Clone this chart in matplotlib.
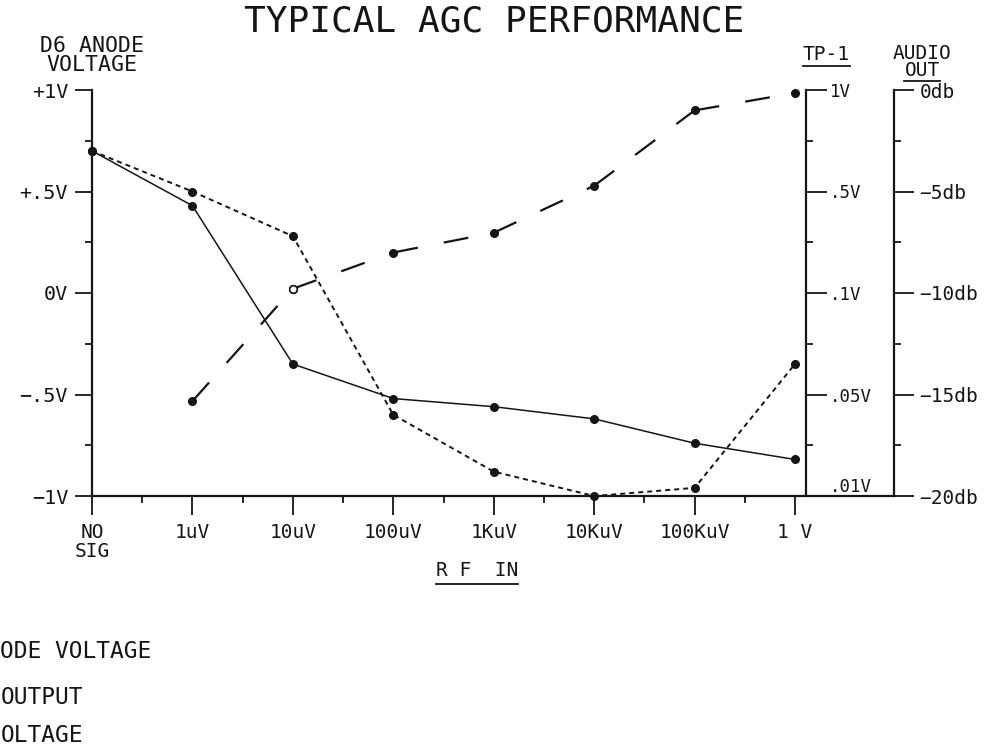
import numpy as np
import matplotlib
matplotlib.use("Agg")
import matplotlib.pyplot as plt
from matplotlib.lines import Line2D
from matplotlib.ticker import NullFormatter

# ---------------- data ----------------
categories = ["NO\nSIG", "1uV", "10uV", "100uV", "1KuV", "10KuV", "100KuV", "1 V"]
anode_v = [0.70, 0.43, -0.35, -0.52, -0.56, -0.62, -0.74, -0.82]          # D6 anode voltage (V)
audio_db = [-3.0, -5.0, -7.2, -16.0, -18.8, -20.0, -19.6, -13.5]           # audio output (db)
tp1_v = [np.nan, 0.045, 0.107, 0.19, 0.26, 0.52, 0.87, 0.98]               # TP-1 voltage (V)

left_ticks = [-1, -0.5, 0, 0.5, 1]
left_labels = ["−1V", "−.5V", "0V", "+.5V", "+1V"]
tp1_ticks = [0.01, 0.05, 0.1, 0.5, 1.0]
tp1_labels = [".01V", ".05V", ".1V", ".5V", "1V"]
audio_ticks = [-20, -15, -10, -5, 0]
audio_labels = ["−20db", "−15db", "−10db", "−5db", "0db"]

# legend entries as visible in the (left-cropped) reference
legend_labels = ["ODE VOLTAGE", "OUTPUT", "OLTAGE"]

# ---------------- style ----------------
plt.rcParams["font.family"] = ["DejaVu Sans Mono"]
plt.rcParams["lines.scale_dashes"] = False
INK = "#151515"
W, H = 1002, 746

fig = plt.figure(figsize=(W / 100, H / 100), dpi=100)
fig.patch.set_facecolor("white")

px_per_cat = 100.43
ax = fig.add_axes([92 / W, 250 / H, 802 / W, 406 / H])
ax.set_xlim(0, 802 / px_per_cat)
ax.set_ylim(-1, 1)
x = np.arange(len(categories))

# TP-1 axis scale (equally spaced 1V, .5V, .1V, .05V, .01V marks)
_tp_pos = np.array([-1.0, -0.5, 0.0, 0.5, 1.0])
_tp_log = np.log10(np.array(tp1_ticks))


def tp_fwd(v):
    v = np.asarray(v, dtype=float)
    with np.errstate(divide="ignore", invalid="ignore"):
        lv = np.log10(np.clip(v, 1e-6, None))
    return np.interp(lv, _tp_log, _tp_pos)


def tp_inv(y):
    y = np.asarray(y, dtype=float)
    return 10 ** np.interp(y, _tp_pos, _tp_log)


ax_aud = ax.twinx()
ax_aud.set_ylim(-20, 0)
ax_tp = ax.twinx()
ax_tp.set_yscale("function", functions=(tp_fwd, tp_inv))
ax_tp.set_ylim(0.01, 1.0)
ax_tp.spines["right"].set_position(("data", 7.109))

for a in (ax, ax_aud, ax_tp):
    for s in a.spines.values():
        s.set_linewidth(1.6)
        s.set_color(INK)
ax.spines["top"].set_visible(False)
ax.spines["right"].set_visible(False)
for a in (ax_aud, ax_tp):
    a.spines["top"].set_visible(False)
    a.spines["left"].set_visible(False)
    a.spines["bottom"].set_visible(False)

# x axis
ax.set_xticks(x, categories, fontsize=14)
ax.set_xticks(x[:-1] + 0.5, minor=True)
ax.tick_params(axis="x", which="major", length=13.7, width=1.3, pad=6, colors=INK, direction="out")
ax.tick_params(axis="x", which="minor", length=5, width=1.3, colors=INK, direction="out")
for lbl in ax.get_xticklabels():
    lbl.set_linespacing(0.95)

# left axis
ax.set_yticks(left_ticks, left_labels, fontsize=14.5)
ax.set_yticks([-0.75, -0.25, 0.25, 0.75], minor=True)
ax.tick_params(axis="y", which="major", length=12.2, width=1.3, pad=5, colors=INK, direction="out")
ax.tick_params(axis="y", which="minor", length=5, width=1.3, colors=INK, direction="out")

# audio axis
ax_aud.set_yticks(audio_ticks, audio_labels, fontsize=14)
ax_aud.set_yticks([-17.5, -12.5, -7.5, -2.5], minor=True)
ax_aud.tick_params(axis="y", which="major", length=14.4, width=1.3, pad=4, colors=INK, direction="out")
ax_aud.tick_params(axis="y", which="minor", length=5, width=1.3, colors=INK, direction="out")

# TP-1 axis
ax_tp.set_yticks(tp1_ticks, tp1_labels, fontsize=12.5)
ax_tp.set_yticks(tp_inv(np.array([-0.75, -0.25, 0.25, 0.75])), minor=True)
ax_tp.yaxis.set_minor_formatter(NullFormatter())
ax_tp.tick_params(axis="y", which="major", length=15, width=1.3, pad=2, colors=INK, direction="out")
ax_tp.tick_params(axis="y", which="minor", length=5, width=1.3, colors=INK, direction="out")
ax_tp.get_yticklabels()[0].set_verticalalignment("bottom")

# ---------------- series ----------------
ax.plot(x, anode_v, "-", color=INK, lw=1.1, marker="o", ms=5.5, zorder=3, clip_on=False)
ax_aud.plot(x, audio_db, color=INK, lw=1.4, ls=(0, (3.6, 2.9)), marker="o", ms=5.5,
            zorder=3, clip_on=False)
tp = np.array(tp1_v)
for i in range(len(x) - 1):
    if np.isnan(tp[i]) or np.isnan(tp[i + 1]):
        continue
    ax_tp.plot(x[i:i + 2], tp[i:i + 2], color=INK, lw=1.6, ls=(0, (18, 19)),
               zorder=3, clip_on=False)
ax_tp.plot(x, tp, "o", color=INK, ms=5.5, zorder=4, clip_on=False)
ax_tp.plot(x[2], tp[2], "o", color=INK, mfc="white", mew=1.2, ms=5.5, zorder=5, clip_on=False)

# ---------------- text ----------------
fig.text(494 / W, 1 - 21 / H, "TYPICAL AGC PERFORMANCE", ha="center", va="center",
         fontsize=26, color=INK)
fig.text(92 / W, 1 - 55.5 / H, "D6 ANODE\nVOLTAGE", ha="center", va="center",
         fontsize=15.5, linespacing=0.95, color=INK)
t_tp = fig.text(826 / W, 1 - 55 / H, "TP-1", ha="center", va="center", fontsize=14, color=INK)
fig.text(922 / W, 1 - 62 / H, "AUDIO\nOUT", ha="center", va="center", fontsize=14,
         linespacing=0.92, color=INK)
t_rf = fig.text(477 / W, 1 - 571 / H, "R F  IN", ha="center", va="center", fontsize=14, color=INK)

legend_y = [652, 698, 735]
for lab, yy in zip(legend_labels, legend_y):
    fig.text(0.5 / W, 1 - yy / H, lab, ha="left", va="center", fontsize=16.5, color=INK)

fig.canvas.draw()
renderer = fig.canvas.get_renderer()
# width of the word OUT for its underline
_probe = fig.text(0, 0, "OUT", fontsize=14)
out_w = _probe.get_window_extent(renderer).width
_probe.remove()

underlines = []
bb = t_tp.get_window_extent(renderer)
underlines.append((bb.x0, bb.x1, 66))
underlines.append((922 - out_w / 2, 922 + out_w / 2, 81))
bb = t_rf.get_window_extent(renderer)
underlines.append((bb.x0, bb.x1, 584))
for x0, x1, y_line in underlines:
    yl = 1 - y_line / H
    fig.add_artist(Line2D([x0 / W, x1 / W], [yl, yl], transform=fig.transFigure,
                          color=INK, lw=1.3))

fig.savefig("out.png", dpi=100, facecolor="white")
